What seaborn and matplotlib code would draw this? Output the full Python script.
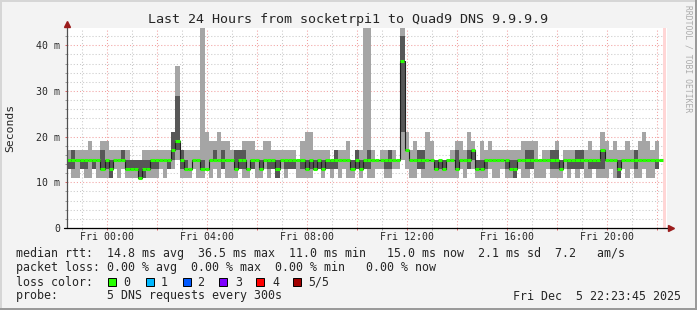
import numpy as np
import pandas as pd
import matplotlib
matplotlib.use("Agg")
import matplotlib.pyplot as plt
import seaborn as sns
from matplotlib.patches import Rectangle
from matplotlib.ticker import MultipleLocator, FixedLocator

nan = float("nan")

# ---- data: 10-minute columns, five sorted DNS pings (ms), hours relative to Fri 00:00 ----
start_hour = -1.6
step_hours = 1 / 6

ping1 = [13,11,11,13,11,11,13,11,11,11,11,13,11,13,11,11,11,11,11,11,11,11,13,11,
         13,13,15,11,11,11,13,11,11,13,11,13,11,13,11,11,11,13,11,11,13,11,11,13,
         11,13,11,13,11,13,13,11,11,11,11,13,13,11,13,11,13,11,13,11,11,13,11,13,
         11,11,13,13,11,11,13,13,15,13,11,11,13,11,11,11,11,11,11,11,11,11,13,11,
         13,13,11,11,11,13,11,11,13,11,11,11,13,11,11,13,11,11,11,13,11,11,11,13,
         11,13,11,13,11,11,13,11,11,11,13,11,11,13,11,13,11,11,13,11,11,13,11,nan]
ping2 = [13,13,15,13,13,15,13,15,13,13,11,15,15,15,13,13,13,11,11,13,13,13,15,15,
         13,15,17,13,13,13,15,15,13,13,15,15,15,13,15,15,13,13,13,13,13,15,13,15,
         13,13,11,15,13,13,13,15,13,13,13,13,13,13,13,13,13,15,15,15,13,13,13,13,
         13,15,15,15,13,13,15,15,21,17,15,15,13,13,15,15,13,13,13,15,15,13,15,15,
         13,15,13,13,13,15,15,15,15,13,13,11,15,15,13,13,15,15,15,15,13,13,13,15,
         13,13,13,13,15,13,13,13,13,15,15,15,11,15,15,15,13,15,15,15,15,13,13,nan]
median = [15,15,15,15,15,15,15,15,13,15,13,15,15,15,13,13,13,11,13,13,15,15,15,15,
          15,17,19,15,13,13,15,15,13,13,15,15,15,15,15,15,13,15,15,13,15,15,13,15,
          15,15,13,15,15,15,15,15,15,13,15,13,15,13,15,15,15,15,15,15,13,15,13,15,
          15,15,15,15,15,15,15,15,36.5,17,15,15,15,15,15,15,13,15,13,15,15,13,15,15,
          15,17,13,13,15,15,15,15,15,15,13,13,15,15,15,15,15,15,15,15,15,15,13,15,
          15,15,15,15,15,15,15,15,17,15,15,15,13,15,15,15,15,15,15,15,15,15,15,nan]
ping4 = [15,17,15,15,15,15,15,15,17,15,15,15,15,17,15,15,15,15,15,15,15,15,15,15,
         15,21,29,17,15,13,15,15,15,13,15,17,15,17,15,15,17,17,17,13,15,15,15,15,
         15,15,15,15,15,15,15,15,15,15,15,15,15,15,15,15,17,15,15,15,15,17,15,15,
         17,15,15,15,15,17,15,15,42,17,15,15,17,17,15,15,15,15,15,15,15,17,15,15,
         17,17,15,15,15,15,15,15,15,15,15,15,15,15,17,17,15,15,15,15,17,17,15,15,
         15,15,17,17,15,15,15,15,17,15,15,15,15,15,15,15,17,15,15,15,15,15,15,nan]
ping5 = [17,17,17,17,17,19,17,17,19,19,17,17,17,17,17,15,15,15,17,17,17,17,17,17,
         17,21,35.5,17,17,17,17,17,60,21,19,19,21,19,19,17,17,17,19,19,19,17,17,19,
         19,17,17,17,17,17,17,15,19,21,21,17,17,17,17,15,17,17,17,19,15,17,17,60,
         60,17,15,17,17,17,17,15,60,21,17,19,17,17,21,19,15,15,15,15,17,19,19,17,
         21,19,15,19,17,19,17,17,17,17,17,17,17,19,19,19,19,15,17,17,17,19,15,17,
         17,17,17,17,17,19,17,17,21,19,17,19,17,17,19,17,17,19,21,19,17,19,17,nan]

x_tick_hours = [0, 4, 8, 12, 16, 20]
x_tick_labels = ["Fri 00:00", "Fri 04:00", "Fri 08:00", "Fri 12:00", "Fri 16:00", "Fri 20:00"]
y_ticks = [0, 10, 20, 30, 40]
y_tick_labels = ["0", "10 m", "20 m", "30 m", "40 m"]

title = "Last 24 Hours from socketrpi1 to Quad9 DNS 9.9.9.9"
legend_rows = [
    "median rtt:  14.8 ms avg  36.5 ms max  11.0 ms min   15.0 ms now  2.1 ms sd  7.2   am/s",
    "packet loss: 0.00 % avg  0.00 % max  0.00 % min   0.00 % now",
    "loss color:",
    "probe:       5 DNS requests every 300s",
]
loss_labels = ["0", "1", "2", "3", "4", "5/5"]
loss_colors = ["#26ff00", "#00b8ff", "#0059ff", "#7e00ff", "#ff0000", "#a10000"]
stamp = "Fri Dec  5 22:23:45 2025"

# ---- build frame ----
n = len(median)
df = pd.DataFrame({"t": start_hour + np.arange(n) * step_hours,
                   "p1": ping1, "p2": ping2, "med": median, "p4": ping4, "p5": ping5})
df["t_end"] = df["t"] + step_hours
edges = np.append(df["t"].values, df["t"].values[-1] + step_hours)

def ext(col):
    v = df[col].values.astype(float)
    return np.append(v, v[-1])

W, H = 697, 310
MONO = "DejaVu Sans Mono"
sns.set_style("white")
plt.rcParams["font.family"] = [MONO]

fig = plt.figure(figsize=(W / 100, H / 100), dpi=100, facecolor="#f3f3f3")
ax = fig.add_axes([67 / W, 1 - 228 / H, 600 / W, 200 / H])
ax.set_facecolor("white")

LIGHT = "#a5a5a5"
DARK = "#575757"
ax.fill_between(edges, ext("p1"), ext("p2"), step="post", color=LIGHT, lw=0, zorder=2)
ax.fill_between(edges, ext("p4"), ext("p5"), step="post", color=LIGHT, lw=0, zorder=2)
ax.fill_between(edges, ext("p2"), ext("p4"), step="post", color=DARK, lw=0, zorder=2)

step_df = pd.DataFrame({"t": edges, "med": ext("med")})
sns.lineplot(data=step_df, x="t", y="med", ax=ax, drawstyle="steps-post",
             color="#202020", lw=0.8, estimator=None, zorder=3)
ax.hlines(df["med"], df["t"], df["t_end"], colors=loss_colors[0], lw=2.2, zorder=4)

# now marker band
ax.axvspan(22.24, 22.36, color="#ffd6d6", lw=0, zorder=1)

ax.set_xlim(start_hour, start_hour + 24)
ax.set_ylim(0, 43.8)
ax.set_xlabel("")
ax.set_ylabel("")

# grid
ax.xaxis.set_major_locator(FixedLocator(np.arange(-0, 23, 2)))
ax.xaxis.set_minor_locator(FixedLocator(np.arange(-1, 23, 1)))
ax.set_xticklabels([x_tick_labels[x_tick_hours.index(h)] if h in x_tick_hours else ""
                    for h in np.arange(0, 23, 2)])
ax.set_yticks(y_ticks)
ax.set_yticklabels(y_tick_labels)
ax.yaxis.set_minor_locator(MultipleLocator(2))
ax.grid(which="major", color="#f2a0a0", ls=(0, (1, 2)), lw=0.75, zorder=0)
ax.grid(which="minor", color="#c9c9c9", ls=(0, (1, 2)), lw=0.75, zorder=0)
ax.set_axisbelow(True)

ax.tick_params(axis="x", which="major", direction="out", length=1.6, width=0.7,
               color="#e06060", pad=1.5, labelsize=7.1)
ax.tick_params(axis="x", which="minor", direction="out", length=1.6, width=0.7,
               color="#999999")
ax.tick_params(axis="y", which="major", direction="out", length=1.6, width=0.7,
               color="#e06060", pad=3.5, labelsize=7.1)
ax.tick_params(axis="y", which="minor", direction="out", length=1.6, width=0.7,
               color="#999999")
ax.tick_params(bottom=True, left=True, which="both")

for s in ["top", "right", "left", "bottom"]:
    ax.spines[s].set_visible(False)

# axes with arrows
ax.plot([0, 0], [0, 1 + 5 / 200], transform=ax.transAxes, color="#505050", lw=0.9,
        clip_on=False, zorder=6)
ax.plot([-3 / 600, 1 + 3 / 600], [0, 0], transform=ax.transAxes, color="#000000", lw=0.9,
        clip_on=False, zorder=6)
ax.plot([0], [1 + 4 / 200], transform=ax.transAxes, marker="^", ms=4.2, color="#9b1c1c",
        mec="#9b1c1c", clip_on=False, zorder=7)
ax.plot([1 + 4 / 600], [0], transform=ax.transAxes, marker=">", ms=4.2, color="#9b1c1c",
        mec="#9b1c1c", clip_on=False, zorder=7)

# texts
fig.text(0.5, 1 - 19 / H, title, ha="center", va="center", fontsize=9.6, family=MONO)
fig.text(10.5 / W, 1 - 128 / H, "Seconds", rotation=90, ha="center", va="center",
         fontsize=8.2, family=MONO)
fig.text(688 / W, 1 - 5 / H, "RRDTOOL / TOBI OETIKER", rotation=270, ha="center", va="top",
         fontsize=5.8, color="#ababab", family=MONO)

row_y = [254, 268, 282, 296]
for txt, yy in zip(legend_rows, row_y):
    fig.text(16 / W, 1 - yy / H, txt, ha="left", va="center", fontsize=8.4, family=MONO)
fig.text(681 / W, 1 - 296 / H, stamp, ha="right", va="center", fontsize=8.4, family=MONO)

box_x = [108, 146, 183, 219, 256, 293]
lab_x = [123, 161, 197, 235, 272, 308]
for bx, lx, col, lab in zip(box_x, lab_x, loss_colors, loss_labels):
    fig.add_artist(Rectangle((bx / W, 1 - 286 / H), 8 / W, 8 / H, transform=fig.transFigure,
                             fc=col, ec="black", lw=0.7))
    fig.text(lx / W, 1 - 282 / H, lab, ha="left", va="center", fontsize=8.4, family=MONO)

# image frame
fig.add_artist(Rectangle((0, 1 - 2 / H), 1, 2 / H, transform=fig.transFigure, color="#d6d6d6", lw=0))
fig.add_artist(Rectangle((0, 0), 2 / W, 1, transform=fig.transFigure, color="#d6d6d6", lw=0))
fig.add_artist(Rectangle((0, 0), 1, 2 / H, transform=fig.transFigure, color="#9a9a9a", lw=0))
fig.add_artist(Rectangle((1 - 2 / W, 0), 2 / W, 1, transform=fig.transFigure, color="#9a9a9a", lw=0))

fig.savefig("out.png", dpi=100, facecolor=fig.get_facecolor())
